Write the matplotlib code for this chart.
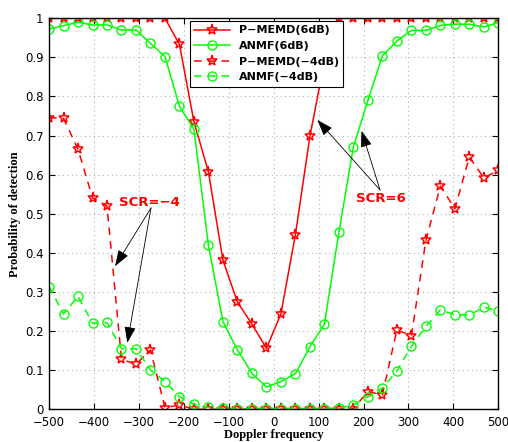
import matplotlib
matplotlib.use('Agg')
import matplotlib.pyplot as plt

# doppler bins (32 points, -500..500)
doppler = [-500, -467.7, -435.5, -403.2, -371.0, -338.7, -306.5, -274.2,
           -241.9, -209.7, -177.4, -145.2, -112.9, -80.6, -48.4, -16.1,
           16.1, 48.4, 80.6, 112.9, 145.2, 177.4, 209.7, 241.9,
           274.2, 306.5, 338.7, 371.0, 403.2, 435.5, 467.7, 500]

pmemd_6 = [1, 1, 1, 1, 1, 1, 1, 1, 1, 0.933, 0.735, 0.607, 0.381, 0.274, 0.218, 0.156,
           0.244, 0.447, 0.698, 0.89, 1, 1, 1, 1, 1, 1, 1, 1, 1, 1, 1, 1]
anmf_6 = [0.973, 0.981, 0.990, 0.983, 0.983, 0.970, 0.970, 0.936, 0.902, 0.775, 0.716,
          0.419, 0.224, 0.152, 0.092, 0.057, 0.071, 0.091, 0.160, 0.218, 0.453, 0.671,
          0.790, 0.904, 0.942, 0.969, 0.969, 0.982, 0.985, 0.985, 0.978, 0.989]
pmemd_m4 = [0.746, 0.744, 0.665, 0.541, 0.520, 0.128, 0.115, 0.152, 0.004, 0.011, 0.0,
            0.0, 0.0, 0.0, 0.0, 0.0, 0.0, 0.0, 0.0, 0.0, 0.0, 0.002, 0.045, 0.037,
            0.203, 0.188, 0.432, 0.571, 0.513, 0.645, 0.592, 0.611]
anmf_m4 = [0.314, 0.244, 0.289, 0.220, 0.222, 0.155, 0.155, 0.101, 0.071, 0.032, 0.013,
           0.005, 0.003, 0.002, 0.002, 0.002, 0.002, 0.002, 0.002, 0.002, 0.003, 0.011,
           0.032, 0.054, 0.098, 0.161, 0.212, 0.254, 0.242, 0.241, 0.261, 0.252]

labels = ['P\u2212MEMD(6dB)', 'ANMF(6dB)', 'P\u2212MEMD(\u22124dB)', 'ANMF(\u22124dB)']
xticks = [-500, -400, -300, -200, -100, 0, 100, 200, 300, 400, 500]
yticks = [0, 0.1, 0.2, 0.3, 0.4, 0.5, 0.6, 0.7, 0.8, 0.9, 1]

red = '#ff0000'
green = '#00ff00'

fig = plt.figure(figsize=(5.08, 4.42), dpi=100)
ax = fig.add_axes([0.0965, 0.074, 0.8845, 0.8846])

star = dict(marker='*', markersize=8, markerfacecolor='none', markeredgewidth=1.1)
circ = dict(marker='o', markersize=6.5, markerfacecolor='none', markeredgewidth=1.0)
ax.plot(doppler, pmemd_6, '-', color=red, lw=1.1, markeredgecolor=red, label=labels[0], **star)
ax.plot(doppler, anmf_6, '-', color=green, lw=1.1, markeredgecolor=green, label=labels[1], **circ)
ax.plot(doppler, pmemd_m4, '--', color=red, lw=1.1, dashes=(5, 4), markeredgecolor=red,
        label=labels[2], **star)
ax.plot(doppler, anmf_m4, '--', color=green, lw=1.1, dashes=(5, 4), markeredgecolor=green,
        label=labels[3], **circ)

ax.set_xlim(-500, 500)
ax.set_ylim(0, 1)
ax.set_xticks(xticks)
ax.set_yticks(yticks)
ax.set_xticklabels([str(t).replace('-', '\u2212') for t in xticks], fontsize=8.5)
ax.set_yticklabels(['0' if t == 0 else ('1' if t == 1 else '%g' % t) for t in yticks], fontsize=8.5)
ax.tick_params(direction='in', top=True, right=True, length=4, width=0.8)
ax.tick_params(axis='x', pad=5)
ax.tick_params(axis='y', pad=4)
ax.grid(True, linestyle=(0, (1, 3)), color='#b0b0b0', lw=0.8)
for s in ax.spines.values():
    s.set_linewidth(1.0)

ax.set_xlabel('Doppler frequency', fontfamily='Liberation Serif', fontweight='bold',
              fontsize=9, labelpad=0)
ax.set_ylabel('Probability of detection', fontfamily='Liberation Serif', fontweight='bold',
              fontsize=9, labelpad=3)

leg = ax.legend(loc='upper left', bbox_to_anchor=(0.313, 0.993), fancybox=False,
                framealpha=1, edgecolor='k', borderaxespad=0, handlelength=3.2,
                prop=dict(weight='bold', size=8), labelspacing=0.5, borderpad=0.4)
leg.get_frame().set_linewidth(0.8)

arrow = dict(arrowstyle='-|>,head_length=1.0,head_width=0.35', color='k', lw=0.6,
             shrinkA=0, shrinkB=0)
for tip in [(-353, 0.366), (-325.7, 0.170)]:
    ax.annotate('', xy=tip, xytext=(-273, 0.515), arrowprops=arrow)
for tip in [(97.2, 0.740), (195.5, 0.712)]:
    ax.annotate('', xy=tip, xytext=(236.7, 0.561), arrowprops=arrow)
ax.text(-277, 0.530, 'SCR=\u22124', color=red, fontweight='bold', fontsize=9.5,
        ha='center', va='center')
ax.text(239, 0.538, 'SCR=6', color=red, fontweight='bold', fontsize=9.5,
        ha='center', va='center')

fig.savefig('out.png', dpi=100)
